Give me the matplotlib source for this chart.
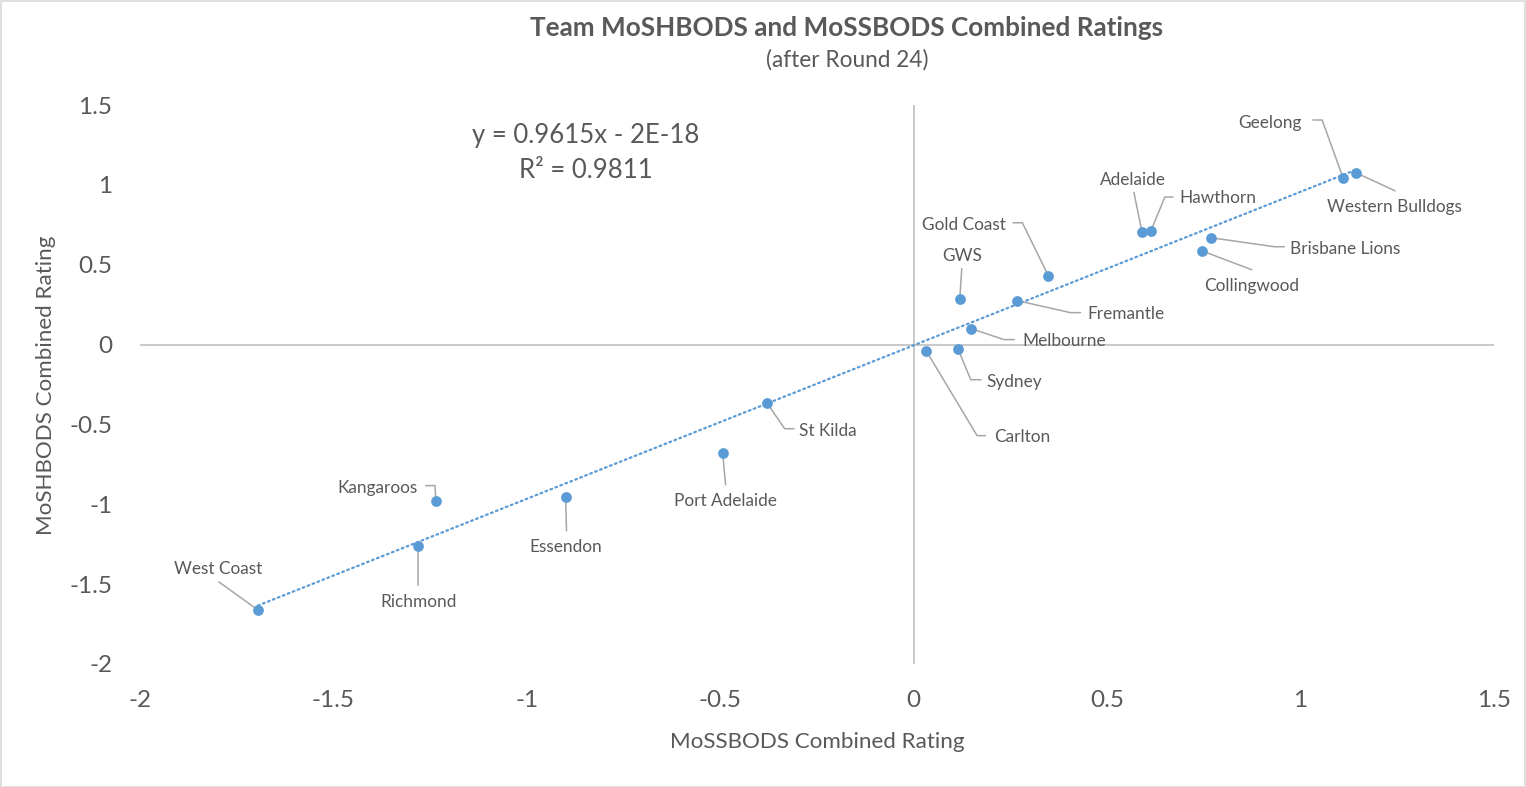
import numpy as np
import matplotlib
matplotlib.use("Agg")
import matplotlib.pyplot as plt
from matplotlib.patches import Rectangle

plt.rcParams['font.family'] = ['Lato', 'DejaVu Sans']

# ---------------- data ----------------
teams = ["Geelong", "Western Bulldogs", "Adelaide", "Hawthorn", "Brisbane Lions",
         "Collingwood", "Gold Coast", "GWS", "Fremantle", "Melbourne", "Sydney",
         "Carlton", "St Kilda", "Port Adelaide", "Essendon", "Kangaroos",
         "Richmond", "West Coast"]
mossbods = [1.110, 1.143, 0.590, 0.613, 0.769, 0.744, 0.348, 0.119, 0.268, 0.148,
            0.114, 0.032, -0.380, -0.494, -0.900, -1.235, -1.281, -1.695]
moshbods = [1.043, 1.076, 0.707, 0.711, 0.669, 0.588, 0.431, 0.286, 0.275, 0.100,
            -0.026, -0.038, -0.364, -0.677, -0.952, -0.977, -1.259, -1.662]
x_ticks = [-2, -1.5, -1, -0.5, 0, 0.5, 1, 1.5]
x_tick_labels = ["-2", "-1.5", "-1", "-0.5", "0", "0.5", "1", "1.5"]
y_ticks = [-2, -1.5, -1, -0.5, 0, 0.5, 1, 1.5]
y_tick_labels = ["-2", "-1.5", "-1", "-0.5", "0", "0.5", "1", "1.5"]
title = "Team MoSHBODS and MoSSBODS Combined Ratings"
subtitle = "(after Round 24)"
x_title = "MoSSBODS Combined Rating"
y_title = "MoSHBODS Combined Rating"
eq_text = "y = 0.9615x - 2E-18"
r2_text = "R² = 0.9811"

# ---------------- layout (pixel offsets from point: text centre, leader vertices) ----------------
label_layout = {
    "Geelong":          ((-73, -55), [(-21, -58), (-30, -58)]),
    "Western Bulldogs": ((39, 34),   [(39, 18)]),
    "Adelaide":         ((-9, -52),  [(-8, -39)]),
    "Hawthorn":         ((67, -33),  [(14, -34), (22, -34)]),
    "Brisbane Lions":   ((134, 11),  [(63, 9), (73, 9)]),
    "Collingwood":      ((50, 35),   [(50, 19)]),
    "Gold Coast":       ((-84, -51), [(-26, -53), (-35, -53)]),
    "GWS":              ((2, -43),   [(2, -30)]),
    "Fremantle":        ((109, 13),  [(53, 12), (63, 12)]),
    "Melbourne":        ((93, 12),   [(33, 11), (43, 11)]),
    "Sydney":           ((56, 33),   [(13, 31), (23, 31)]),
    "Carlton":          ((96, 86),   [(51, 85), (59, 85)]),
    "St Kilda":         ((61, 28),   [(18, 26), (27, 26)]),
    "Port Adelaide":    ((3, 48),    [(3, 32)]),
    "Essendon":         ((0, 50),    [(1, 34)]),
    "Kangaroos":        ((-58, -13), [(-1, -15), (-10, -15)]),
    "Richmond":         ((0, 56),    [(0, 39)]),
    "West Coast":       ((-40, -41), [(-39, -28)]),
}

W, H = 1526, 787
TXT = '#595959'
BLUE = '#5B9BD5'

fig = plt.figure(figsize=(W / 100, H / 100), dpi=100)
fig.patch.set_facecolor('white')
fig.add_artist(Rectangle((0.5 / W, 0.5 / H), 1 - 1.5 / W, 1 - 1.5 / H, transform=fig.transFigure,
                         fill=False, edgecolor='#D9D9D9', lw=1.2))

def fx(px):
    return px / W

def fy(py):
    return 1 - py / H

ax = fig.add_axes([fx(140), fy(664), (1494 - 140) / W, (664 - 105) / H])
ax.set_xlim(-2, 1.5)
ax.set_ylim(-2, 1.5)
for s in ax.spines.values():
    s.set_visible(False)
ax.axhline(0, color='#BFBFBF', lw=1.2, zorder=1)
ax.axvline(0, color='#BFBFBF', lw=1.2, zorder=1)

ax.set_xticks(x_ticks)
ax.set_xticklabels(x_tick_labels)
ax.set_yticks(y_ticks)
ax.set_yticklabels(y_tick_labels)
ax.tick_params(axis='both', length=0, labelsize=17.5, labelcolor=TXT)
ax.tick_params(axis='x', pad=19)
ax.tick_params(axis='y', pad=20)

xs = np.array(mossbods)
ys = np.array(moshbods)

# trendline
coef = np.polyfit(xs, ys, 1)
tx = np.array([xs.min(), xs.max()])
ax.plot(tx, np.polyval(coef, tx), color=BLUE, lw=1.6, linestyle=(0, (0.8, 1.6)),
        dash_capstyle='round', zorder=2)

# leader lines and labels
inv = ax.transData.inverted()
for name, x, y in zip(teams, xs, ys):
    (tdx, tdy), verts = label_layout[name]
    base = ax.transData.transform((x, y))
    pts = [base] + [base + np.array([dx, -dy]) for dx, dy in verts]
    dpts = inv.transform(np.array(pts))
    ax.plot(dpts[:, 0], dpts[:, 1], color='#A6A6A6', lw=1.1, zorder=2.5)
    ax.annotate(name, xy=(x, y), xytext=(tdx, -tdy), textcoords='offset pixels',
                ha='center', va='center', fontsize=12.4, color=TXT, zorder=4)

ax.scatter(xs, ys, s=60, color=BLUE, zorder=3, linewidths=0)

# texts
fig.text(fx(847), fy(28), title, ha='center', va='center', fontsize=18.8,
         fontweight='bold', color=TXT)
fig.text(fx(847), fy(60), subtitle, ha='center', va='center', fontsize=16.3, color=TXT)
fig.text(fx(817), fy(742), x_title, ha='center', va='center', fontsize=16.1, color=TXT)
fig.text(fx(46), fy(385), y_title, ha='center', va='center', fontsize=16.1, color=TXT,
         rotation=90)
fig.text(fx(586), fy(135), eq_text, ha='center', va='center', fontsize=18.5, color=TXT)
fig.text(fx(586), fy(170), r2_text, ha='center', va='center', fontsize=18.5, color=TXT)

fig.savefig('out.png', dpi=100)
